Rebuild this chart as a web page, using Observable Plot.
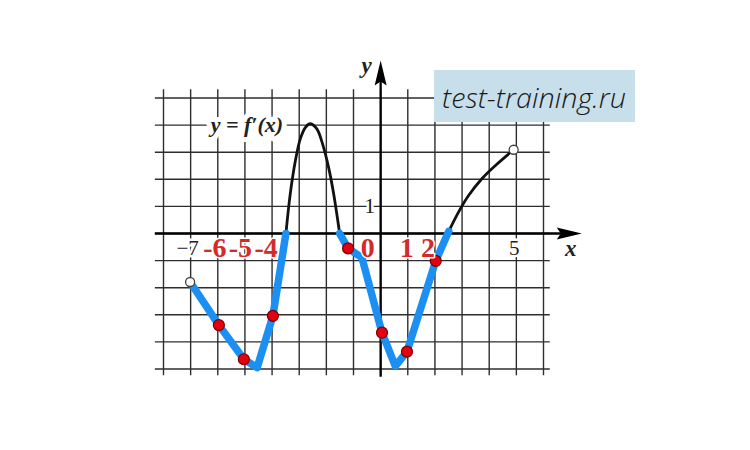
<!DOCTYPE html>
<html><head><meta charset="utf-8">
<script src="https://cdn.jsdelivr.net/npm/d3@7"></script>
<script src="https://cdn.jsdelivr.net/npm/@observablehq/plot@0.6"></script>
<style>
body{margin:0;background:#fff;}
#wrap{position:relative;width:750px;height:450px;overflow:hidden;}
#wm{position:absolute;left:434px;top:70px;width:201px;height:52px;background:#c6dfeb;}
</style>
</head><body>
<div id="wrap"><div id="chart"></div>
<svg id="wm" width="201" height="52"><text x="8" y="38" textLength="184" lengthAdjust="spacingAndGlyphs" style="font:italic 300 28px 'Open Sans';fill:#1a1a1a">test-training.ru</text></svg>
</div>
<script>
// grid
const gridX = [-8,-7,-6,-5,-4,-3,-2,-1,0,1,2,3,4,5,6];
const gridY = [-5,-4,-3,-2,-1,0,1,2,3,4,5];
// f'(x) pieces
const humpX = [-3.49,-3.33,-3.14,-2.96,-2.77,-2.59,-2.35,-2.16,-1.92,-1.73,-1.51];
const humpY = [0,1.46,2.69,3.49,3.92,4.05,3.86,3.37,2.45,1.46,0];
const tailX = [2.51,2.87,3.24,3.73,4.23,4.9];
const tailY = [0.08,0.79,1.4,2.02,2.51,3.09];
const blueLeftX = [-7.02,-5.96,-5.04,-4.55,-3.97,-3.49];
const blueLeftY = [-1.79,-3.38,-4.64,-4.95,-3.04,0];
const blueRightX = [-1.51,-1.2,-0.69,0.05,0.54,0.97,2.03,2.51];
const blueRightY = [0,-0.55,-0.89,-3.66,-4.89,-4.36,-1.01,0.08];
const dotX = [-5.96,-5.04,-3.97,-1.2,0.05,0.97,2.03];
const dotY = [-3.38,-4.64,-3.04,-0.55,-3.66,-4.36,-1.01];
const openX = [-7.02,4.9];
const openY = [-1.79,3.09];
// labels
const blackTicks = [{t:"−7",x:-7,dx:-3},{t:"5",x:5,dx:-2}];
const redTicks = [{t:"-6",x:-6,dx:-3},{t:"-5",x:-5,dx:-4.5},{t:"-4",x:-4,dx:-6},{t:"0",x:0,dx:-13},{t:"1",x:1,dx:-1},{t:"2",x:2,dx:-7}];

const pts = (xs, ys) => xs.map((x,i)=>({x, y: ys[i]}));
const arrowHead = {draw(ctx){ctx.moveTo(0,-13);ctx.lineTo(6,12);ctx.lineTo(0,8);ctx.lineTo(-6,12);ctx.closePath();}};

const serif = "'Liberation Serif', 'DejaVu Serif', serif";
const plot = Plot.plot({
  width: 750, height: 450,
  marginLeft: 163, marginRight: 207, marginTop: 97.5, marginBottom: 81.5,
  x: {domain: [-8, 6], axis: null},
  y: {domain: [-5, 5], axis: null},
  style: {background: "#fff"},
  marks: [
    Plot.ruleX(gridX, {x: d=>d, y1: -5.25, y2: 5.3, stroke: "#2e2e2e", strokeWidth: 1.4}),
    Plot.ruleY(gridY, {y: d=>d, x1: -8.3, x2: 6.25, stroke: "#2e2e2e", strokeWidth: 1.4}),
    Plot.ruleX([0], {x: d=>d, y1: -5.3, y2: 5.9, stroke: "#000", strokeWidth: 2.3}),
    Plot.ruleY([0], {y: d=>d, x1: -8.3, x2: 6.93, stroke: "#000", strokeWidth: 2.3}),
    Plot.dot([0], {x: 0, y: 5.9, symbol: arrowHead, fill: "#000", r: 1}),
    Plot.dot([0], {x: 6.93, y: 0, symbol: arrowHead, fill: "#000", r: 1, rotate: 90}),
    Plot.text(["y = f′(x)"], {x: -5, y: 4, dx: 2, text: d=>d, fontFamily: serif, fontStyle: "italic", fontWeight: "bold", fontSize: 22, fill: "#222", stroke: "#fff", strokeWidth: 10}),
    Plot.line(pts(humpX, humpY), {x: "x", y: "y", curve: "catmull-rom", stroke: "#111", strokeWidth: 2.8}),
    Plot.line(pts(tailX, tailY), {x: "x", y: "y", curve: "catmull-rom", stroke: "#111", strokeWidth: 2.8}),
    Plot.line(pts(blueLeftX, blueLeftY), {x: "x", y: "y", stroke: "#1b8ff2", strokeWidth: 7.5, strokeLinejoin: "round"}),
    Plot.line(pts(blueRightX, blueRightY), {x: "x", y: "y", stroke: "#1b8ff2", strokeWidth: 7.5, strokeLinejoin: "round"}),
    Plot.dot(pts(openX, openY), {x: "x", y: "y", r: 4.5, fill: "#fff", stroke: "#444", strokeWidth: 1.3}),
    Plot.dot(pts(dotX, dotY), {x: "x", y: "y", r: 5.5, fill: "#e3000f", stroke: "#7a0000", strokeWidth: 1.2}),
    ...blackTicks.map(d => Plot.text([d], {x: "x", y: 0, dx: d.dx, dy: 15, text: "t", fontFamily: serif, fontSize: 21, fill: "#222", stroke: "#fff", strokeWidth: 5})),
    Plot.text(["1"], {x: 0, y: 1, dx: -11, text: d=>d, fontFamily: serif, fontSize: 22, fill: "#222", stroke: "#fff", strokeWidth: 5}),
    Plot.text(["x"], {x: 7, y: 0, dy: 15, text: d=>d, fontFamily: serif, fontStyle: "italic", fontWeight: "bold", fontSize: 23, fill: "#222"}),
    Plot.text(["y"], {x: 0, y: 6.2, dx: -14, text: d=>d, fontFamily: serif, fontStyle: "italic", fontWeight: "bold", fontSize: 23, fill: "#222"}),
    ...redTicks.map(d => Plot.text([d], {x: "x", y: 0, dx: d.dx, dy: 15, text: "t", fontFamily: serif, fontWeight: "bold", fontSize: 28, fill: "#d42a2a", stroke: "#fff", strokeWidth: 3}))
  ]
});
document.getElementById("chart").append(plot);
</script>
</body></html>
